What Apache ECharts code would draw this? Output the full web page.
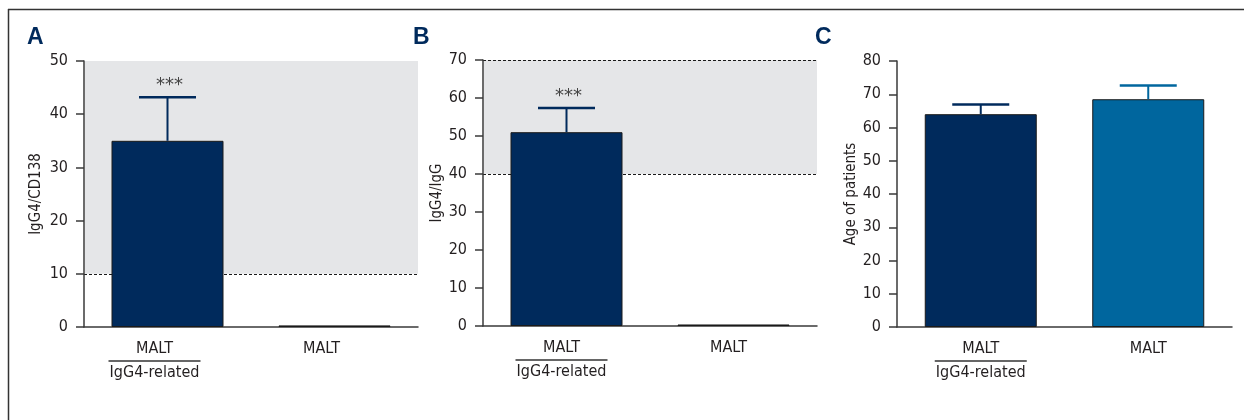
<!DOCTYPE html>
<html><head><meta charset="utf-8">
<script src="https://cdn.jsdelivr.net/npm/echarts@6/dist/echarts.min.js"></script>
<style>html,body{margin:0;padding:0;background:#fff}#c{width:1244px;height:420px}</style>
</head><body><div id="c"></div>
<script>
// ---- data ----
const categories = ['MALT\nIgG4-related', 'MALT'];
const panelLetters = ['A', 'B', 'C'];
const yTitles = ['IgG4/CD138', 'IgG4/IgG', 'Age of patients'];
const yMaxes = [50, 70, 80];
const yInterval = 10;
const valuesA = [35.0, 0.3];
const errorsA = [8.2, 0];
const valuesB = [51.0, 0.4];
const errorsB = [6.4, 0];
const valuesC = [64.0, 68.5];
const errorsC = [2.9, 4.1];
const signifA = ['***', ''];
const signifB = ['***', ''];
const signifC = ['', ''];
const refRangeA = [10, 50];
const refLinesA = [10];
const refRangeB = [40, 70];
const refLinesB = [40, 70];

// ---- styling ----
const FONT = "'DejaVu Sans Condensed', 'Liberation Sans Narrow', sans-serif";
const NAVY = '#002a5c';
const BLUE = '#00669e';
const AXIS = '#3a3a3a';
const TEXT = '#231f20';

const grids = [
  { left: 84, top: 61, width: 334, height: 266 },
  { left: 483, top: 60, width: 334, height: 266 },
  { left: 897, top: 61, width: 335, height: 266 }
];
const labelShift = [26, 10, 0];
const nameGaps = [40, 32, 30];

const panels = [
  { values: valuesA, errors: errorsA, signif: signifA, colors: [NAVY, NAVY], ref: refRangeA, refLines: refLinesA },
  { values: valuesB, errors: errorsB, signif: signifB, colors: [NAVY, NAVY], ref: refRangeB, refLines: refLinesB },
  { values: valuesC, errors: errorsC, signif: signifC, colors: [NAVY, BLUE], ref: null, refLines: [] }
];

const xAxes = [], yAxes = [], series = [];
panels.forEach((p, idx) => {
  xAxes.push({
    type: 'category', gridIndex: idx, data: categories, boundaryGap: true,
    axisLine: { lineStyle: { color: AXIS, width: 1.5 } },
    axisTick: { show: false },
    axisLabel: {
      margin: 11, interval: 0, padding: [0, labelShift[idx], 0, 0],
      formatter: v => {
        const parts = v.split('\n');
        return parts.length > 1 ? '{a|' + parts[0] + '}\n{l|}\n{a|' + parts[1] + '}' : '{a|' + v + '}';
      },
      rich: {
        a: { fontSize: 16, lineHeight: 22, color: TEXT, fontFamily: FONT },
        l: { width: 92, height: 1.5, lineHeight: 2, backgroundColor: '#333' }
      }
    }
  });
  yAxes.push({
    type: 'value', gridIndex: idx, min: 0, max: yMaxes[idx], interval: yInterval,
    name: yTitles[idx], nameLocation: 'middle', nameGap: nameGaps[idx],
    nameTextStyle: { fontSize: 15, color: TEXT, fontFamily: FONT },
    axisLine: { show: true, lineStyle: { color: AXIS, width: 1.5 } },
    axisTick: { show: true, length: 8, lineStyle: { color: AXIS, width: 1.5 } },
    axisLabel: { margin: 16, fontSize: 16, color: TEXT, fontFamily: FONT },
    splitLine: { show: false }
  });
  if (p.ref) {
    const lines = p.refLines;
    series.push({
      type: 'custom', xAxisIndex: idx, yAxisIndex: idx, z: 0, silent: true,
      data: [[0, p.ref[0], p.ref[1]]],
      renderItem(params, api) {
        const cs = params.coordSys;
        const yTop = api.coord([0, api.value(2)])[1];
        const yBot = api.coord([0, api.value(1)])[1];
        const ch = [{ type: 'rect', shape: { x: cs.x + 1, y: yTop, width: cs.width - 1, height: yBot - yTop }, style: { fill: '#e5e6e8' } }];
        lines.forEach(v => {
          const y = Math.round(api.coord([0, v])[1]) + 0.5;
          ch.push({ type: 'line', shape: { x1: cs.x, y1: y, x2: cs.x + cs.width, y2: y }, style: { stroke: '#1a1a1a', lineWidth: 1.2, lineDash: [3, 2] } });
        });
        return { type: 'group', children: ch };
      }
    });
  }
  series.push({
    type: 'bar', xAxisIndex: idx, yAxisIndex: idx, z: 2, barWidth: 112,
    data: p.values.map((v, i) => ({ value: v, itemStyle: { color: p.colors[i] } })),
    itemStyle: { borderColor: '#1a1a1a', borderWidth: 1 },
    silent: true
  });
  series.push({
    type: 'custom', xAxisIndex: idx, yAxisIndex: idx, z: 3, silent: true,
    data: p.values.map((v, i) => [i, v, v + p.errors[i]]),
    renderItem(params, api) {
      const i = params.dataIndex;
      if (!(p.errors[i] > 0)) return null;
      const p0 = api.coord([i, api.value(1)]);
      const p1 = api.coord([i, api.value(2)]);
      const c = p.colors[i];
      const half = 28.5;
      const ch = [
        { type: 'line', shape: { x1: p0[0], y1: p0[1], x2: p1[0], y2: p1[1] }, style: { stroke: c, lineWidth: 2 } },
        { type: 'line', shape: { x1: p1[0] - half, y1: p1[1], x2: p1[0] + half, y2: p1[1] }, style: { stroke: c, lineWidth: 2.5 } }
      ];
      if (p.signif[i]) {
        ch.push({ type: 'text', style: { text: p.signif[i], x: p1[0] + 2, y: p1[1] - 3, align: 'center', verticalAlign: 'bottom', fill: '#444', fontSize: 18, fontFamily: 'DejaVu Sans' } });
      }
      return { type: 'group', children: ch };
    }
  });
});

const letterX = [27, 413, 815];
const graphics = [
  { type: 'line', shape: { x1: 8, y1: 9.5, x2: 1244, y2: 9.5 }, style: { stroke: '#333', lineWidth: 1.5 }, silent: true },
  { type: 'line', shape: { x1: 8.5, y1: 9, x2: 8.5, y2: 420 }, style: { stroke: '#333', lineWidth: 1.5 }, silent: true }
];
panelLetters.forEach((L, i) => {
  graphics.push({ type: 'text', left: letterX[i], top: 26, silent: true,
    style: { text: L, fill: NAVY, fontSize: 23, fontWeight: 'bold', fontFamily: "'Liberation Sans', Arial, sans-serif" } });
});

const chart = echarts.init(document.getElementById('c'), null, { renderer: 'canvas' });
chart.setOption({
  animation: false,
  backgroundColor: '#fff',
  grid: grids.map(g => Object.assign({ containLabel: false }, g)),
  xAxis: xAxes, yAxis: yAxes, series, graphic: graphics
});
</script></body></html>
